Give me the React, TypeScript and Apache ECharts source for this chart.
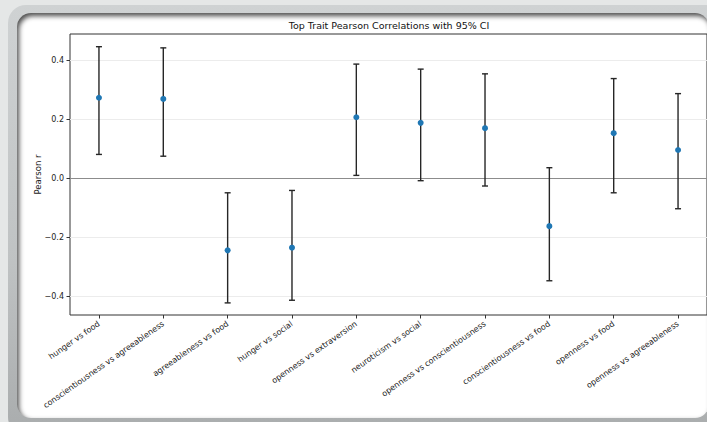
import React, { useEffect, useRef } from "react";
import * as echarts from "echarts";

const categories: string[] = [
  "hunger vs food",
  "conscientiousness vs agreeableness",
  "agreeableness vs food",
  "hunger vs social",
  "openness vs extraversion",
  "neuroticism vs social",
  "openness vs conscientiousness",
  "conscientiousness vs food",
  "openness vs food",
  "openness vs agreeableness",
];
const pearsonR: number[] = [0.273, 0.269, -0.244, -0.235, 0.207, 0.188, 0.17, -0.162, 0.153, 0.096];
const ciLower: number[] = [0.081, 0.075, -0.422, -0.413, 0.01, -0.008, -0.026, -0.347, -0.049, -0.103];
const ciUpper: number[] = [0.446, 0.442, -0.049, -0.041, 0.387, 0.37, 0.354, 0.036, 0.338, 0.287];
const yTicks: number[] = [-0.4, -0.2, 0, 0.2, 0.4];
const titleText = "Top Trait Pearson Correlations with 95% CI";
const yAxisName = "Pearson r";

const FONT = "DejaVu Sans";

export default function App() {
  const ref = useRef<HTMLDivElement>(null);

  useEffect(() => {
    if (!ref.current) return;
    const chart = echarts.init(ref.current, undefined, { renderer: "svg" });
    const idx = categories.map((_, i) => i);
    const option: any = {
      animation: false,
      grid: {
        left: 70,
        top: 34,
        width: 638,
        height: 281,
        show: true,
        borderColor: "#333",
        borderWidth: 1,
        backgroundColor: "transparent",
      },
      graphic: [
        {
          type: "text",
          x: 389,
          y: 25,
          style: {
            text: titleText,
            fontSize: 9.5,
            fontFamily: FONT,
            fill: "#111",
            textAlign: "center",
            textVerticalAlign: "middle",
          },
        },
      ],
      xAxis: {
        type: "value",
        min: -0.45,
        max: 9.45,
        axisLine: { show: false, onZero: false },
        splitLine: { show: false },
        axisTick: {
          show: true,
          customValues: idx,
          length: 3.5,
          lineStyle: { color: "#333", width: 1 },
        },
        axisLabel: {
          customValues: idx,
          rotate: 35,
          margin: 8,
          fontSize: 8,
          fontFamily: FONT,
          color: "#222",
          formatter: (v: number) => categories[Math.round(v)] ?? "",
        },
      },
      yAxis: {
        type: "value",
        min: -0.463,
        max: 0.489,
        name: yAxisName,
        nameLocation: "middle",
        nameGap: 28,
        nameMoveOverlap: false,
        nameTextStyle: { fontSize: 8.5, fontFamily: FONT, color: "#222" },
        axisLine: { show: false, onZero: false },
        splitLine: { show: true, lineStyle: { color: "#ececec", width: 1 } },
        axisTick: {
          show: true,
          customValues: yTicks,
          length: 3.5,
          lineStyle: { color: "#333", width: 1 },
        },
        axisLabel: {
          customValues: yTicks,
          margin: 6,
          fontSize: 8,
          fontFamily: FONT,
          color: "#222",
          formatter: (v: number) => v.toFixed(1).replace("-", "\u2212"),
        },
      },
      series: [
        {
          type: "custom",
          z: 3,
          data: idx.map((i) => [i, ciLower[i], ciUpper[i]]),
          encode: { x: 0, y: [1, 2] },
          renderItem: (_params: any, api: any) => {
            const x = api.value(0);
            const lo = api.coord([x, api.value(1)]);
            const hi = api.coord([x, api.value(2)]);
            const cap = 3;
            const style = { stroke: "#262626", lineWidth: 1.4 };
            return {
              type: "group",
              children: [
                { type: "line", shape: { x1: lo[0], y1: lo[1], x2: hi[0], y2: hi[1] }, style },
                { type: "line", shape: { x1: hi[0] - cap, y1: hi[1], x2: hi[0] + cap, y2: hi[1] }, style },
                { type: "line", shape: { x1: lo[0] - cap, y1: lo[1], x2: lo[0] + cap, y2: lo[1] }, style },
              ],
            };
          },
        },
        {
          type: "scatter",
          z: 4,
          symbolSize: 6,
          itemStyle: { color: "#1f77b4", opacity: 1 },
          data: idx.map((i) => [i, pearsonR[i]]),
          markLine: {
            silent: true,
            symbol: "none",
            label: { show: false },
            lineStyle: { color: "#8c8c8c", type: "solid", width: 1 },
            data: [{ yAxis: 0 }],
            z: 2,
          },
        },
      ],
    };
    chart.setOption(option);
    return () => chart.dispose();
  }, []);

  return (
    <div
      style={{
        position: "fixed",
        left: 0,
        top: 0,
        width: 707,
        height: 422,
        overflow: "hidden",
        background: "#e5e7e7",
      }}
    >
      <div
        style={{
          position: "absolute",
          left: 8,
          top: 5,
          width: 716,
          height: 430,
          borderRadius: 18,
          background: "linear-gradient(#cfd2d3, #bfc2c3 60%, #a9acad)",
        }}
      />
      <div
        style={{
          position: "absolute",
          left: 17,
          top: 13,
          width: 692,
          height: 405,
          borderRadius: 14,
          background: "#ffffff",
          boxShadow: "inset 2px 3px 5px rgba(0,0,0,0.7)",
        }}
      />
      <div ref={ref} style={{ position: "absolute", left: 0, top: 0, width: 707, height: 422 }} />
    </div>
  );
}
